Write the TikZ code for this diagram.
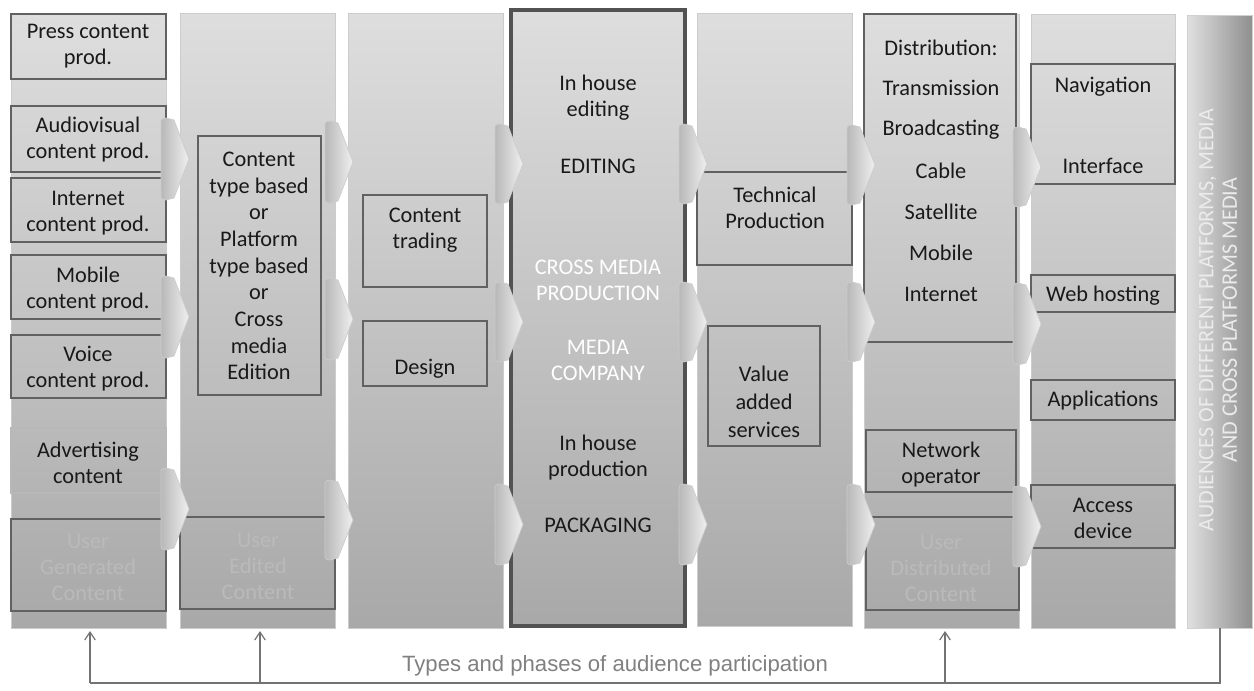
\documentclass[tikz,border=0pt]{standalone}
\usepackage{fontspec}
\setmainfont{Carlito}
\newfontfamily\arialfont{Liberation Sans}
\usetikzlibrary{arrows.meta}

% chevron connector between two columns: left x, top y, bottom y
\newcommand\mkchev[3]{%
  \path[chev] (#1,#2+6) .. controls (#1,#2+1) .. (#1+5,#2)
    -- (#1+13,#2+2) -- (#1+28,{(#2+#3)/2}) -- (#1+13,#3-2)
    -- (#1+5,#3) .. controls (#1,#3-1) .. (#1,#3-6) -- cycle;}

\begin{document}
\begin{tikzpicture}[x=0.02cm,y=-0.02cm,
  col/.style={draw=black!20, line width=0.5pt, top color=black!13, bottom color=black!34},
  hub/.style={draw=black!68, line width=2.3pt, top color=black!13, bottom color=black!34},
  frame/.style={draw=black!62, line width=0.9pt},
  softframe/.style={draw=black!28, line width=0.6pt},
  txt/.style={font=\fontsize{12.7}{14.8}\selectfont, align=center, text=black!90, inner sep=0pt},
  usertxt/.style={txt, text=black!27},
  whitetxt/.style={txt, text=white},
  chev/.style={draw=black!20, line width=0.4pt, left color=black!28, right color=black!6},
  feed/.style={draw=black!55, line width=0.7pt},
  feedtip/.style={feed, -{Straight Barb[length=4.5pt,width=6pt]}},
]
\useasboundingbox (0,0) rectangle (1254,690);

% value chain columns
\path[col] (11,14) rectangle (166,628);
\path[col] (180,13) rectangle (335,628);
\path[col] (348,13) rectangle (503,628);
\path[hub] (511,10) rectangle (685,626);
\path[col] (697,13) rectangle (852,626);
\path[col] (864,14) rectangle (1019,628);
\path[col] (1031,14) rectangle (1175,628);
\path[draw=black!18, left color=black!12, right color=black!44] (1187,15) rectangle (1252,628);

% content production
\draw[frame] (11,14) rectangle (166,79);
\draw[frame] (11,106) rectangle (166,172);
\draw[frame] (11,178) rectangle (166,242);
\draw[frame] (11,255) rectangle (166,319);
\draw[frame] (11,335) rectangle (166,398);
\draw[softframe] (11,428) rectangle (166,493);
\draw[frame] (11,519) rectangle (166,611);
\node[txt] (press) at (88,46) {Press content\\prod.};
\node[txt] (av) at (88,140) {Audiovisual\\content prod.};
\node[txt] (inet) at (88,213) {Internet\\content prod.};
\node[txt] (mob) at (88,290) {Mobile\\content prod.};
\node[txt] (voice) at (88,369) {Voice\\content prod.};
\node[txt] (adv) at (88,463) {Advertising\\content};
\node[usertxt] (ugc) at (88,567) {User\\Generated\\Content};

% edition
\draw[frame] (198,136) rectangle (321,395);
\draw[frame] (180,517) rectangle (335,609);
\node[txt, font=\fontsize{12.7}{15.2}\selectfont] (edition) at (259,266)
  {Content\\type based\\or\\Platform\\type based\\or\\Cross\\media\\Edition};
\node[usertxt] (uec) at (258,566) {User\\Edited\\Content};

% trading and design
\draw[frame] (363,195) rectangle (487,287);
\draw[frame] (363,321) rectangle (487,386);
\node[txt] (trading) at (425,230) {Content\\trading};
\node[txt] (design) at (425,369) {Design};

% media company
\node[txt] (ihe) at (598,98) {In house\\editing};
\node[txt] (editing) at (598,166) {EDITING};
\node[whitetxt] (cmp) at (598,280) {CROSS MEDIA\\PRODUCTION};
\node[whitetxt] (company) at (598,360) {MEDIA\\COMPANY};
\node[txt] (ihp) at (598,458) {In house\\production};
\node[txt] (packaging) at (598,525) {PACKAGING};

% technical production
\draw[frame] (697,172) rectangle (852,265);
\draw[frame] (708,326) rectangle (820,446);
\node[txt] (tech) at (775,208) {Technical\\Production};
\node[txt, font=\fontsize{12.7}{15.8}\selectfont] (vas) at (764,402) {Value\\added\\services};

% distribution
\draw[frame] (864,14) rectangle (1016,342);
\draw[frame] (866,430) rectangle (1016,492);
\draw[frame] (866,517) rectangle (1019,610);
\node[txt] (distr) at (941,48) {Distribution:};
\node[txt] (trans) at (941,88) {Transmission};
\node[txt] (broad) at (941,130) {Broadcasting};
\node[txt] (cable) at (941,171) {Cable};
\node[txt] (sat) at (941,212) {Satellite};
\node[txt] (mobile) at (941,253) {Mobile};
\node[txt] (internet) at (941,294) {Internet};
\node[txt] (netop) at (941,465) {Network\\operator};
\node[usertxt] (udc) at (941,568) {User\\Distributed\\Content};

% access
\draw[frame] (1031,64) rectangle (1175,184);
\draw[frame] (1031,275) rectangle (1175,312);
\draw[frame] (1031,380) rectangle (1175,420);
\draw[frame] (1031,485) rectangle (1175,548);
\node[txt] (nav) at (1103,87) {Navigation};
\node[txt] (iface) at (1103,166) {Interface};
\node[txt] (web) at (1103,296) {Web hosting};
\node[txt] (apps) at (1103,401) {Applications};
\node[txt] (access) at (1103,518) {Access\\device};

% audiences
\node[whitetxt, text=white!92!black, rotate=90, font=\fontsize{12.6}{13.4}\selectfont] (aud) at (1218,320)
  {AUDIENCES OF DIFFERENT PLATFORMS, MEDIA\\AND CROSS PLATFORMS MEDIA};

% chevrons between the columns
\mkchev{161}{118}{200} \mkchev{325}{121}{203} \mkchev{495}{124}{204}
\mkchev{679}{124}{204} \mkchev{847}{125}{205} \mkchev{1013}{127}{207}
\mkchev{161}{276}{358} \mkchev{325}{278}{360} \mkchev{495}{282}{362}
\mkchev{679}{282}{362} \mkchev{847}{282}{362} \mkchev{1013}{283}{365}
\mkchev{161}{468}{550} \mkchev{325}{480}{560} \mkchev{495}{484}{565}
\mkchev{679}{484}{565} \mkchev{847}{484}{565} \mkchev{1013}{486}{567}

% audience participation feedback
\coordinate (ugcin) at (90,631);
\coordinate (uecin) at (260,631);
\coordinate (udcin) at (945,631);
\coordinate (audout) at (1220,628);
\coordinate (fbl) at (90,683);
\coordinate (fbr) at (1220,683);
\draw[feed] (audout) -- (fbr) -- (fbl);
\draw[feedtip] (fbl) -- (ugcin);
\draw[feedtip] (uecin |- fbl) -- (uecin);
\draw[feedtip] (udcin |- fbl) -- (udcin);
\node[font=\arialfont\fontsize{12.6}{14}\selectfont, text=black!50, inner sep=0pt] (types) at (615,666)
  {Types and phases of audience participation};
\end{tikzpicture}
\end{document}
